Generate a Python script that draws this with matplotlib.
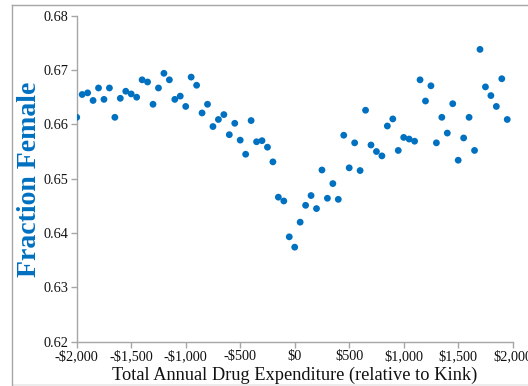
import matplotlib
matplotlib.use("Agg")
import matplotlib.pyplot as plt
from matplotlib.lines import Line2D
from matplotlib.patches import Rectangle
from matplotlib.ticker import FuncFormatter

# Bin centres of total annual drug expenditure relative to the kink ($50 bins)
expenditure = list(range(-2000, 2000, 50))

# Share of female enrollees in each bin
fraction_female = [
    0.6613, 0.6655, 0.6658, 0.6644, 0.6667, 0.6646, 0.6667, 0.6613, 0.6648, 0.6661,
    0.6656, 0.6650, 0.6682, 0.6678, 0.6637, 0.6667, 0.6694, 0.6682, 0.6646, 0.6652,
    0.6633, 0.6687, 0.6672, 0.6621, 0.6637, 0.6596, 0.6609, 0.6618, 0.6581, 0.6602,
    0.6571, 0.6545, 0.6607, 0.6568, 0.6570, 0.6558, 0.6531, 0.6466, 0.6459, 0.6393,
    0.6374, 0.6420, 0.6451, 0.6469, 0.6445, 0.6516, 0.6464, 0.6491, 0.6462, 0.6580,
    0.6520, 0.6566, 0.6515, 0.6626, 0.6562, 0.6550, 0.6542, 0.6597, 0.6610, 0.6552,
    0.6576, 0.6573, 0.6569, 0.6682, 0.6643, 0.6671, 0.6566, 0.6613, 0.6584, 0.6638,
    0.6534, 0.6575, 0.6613, 0.6552, 0.6738, 0.6669, 0.6653, 0.6633, 0.6684, 0.6609,
]

x_ticks = [-2000, -1500, -1000, -500, 0, 500, 1000, 1500, 2000]
y_ticks = [0.62, 0.63, 0.64, 0.65, 0.66, 0.67, 0.68]

plt.rcParams["font.family"] = ["Liberation Serif", "DejaVu Serif"]

blue = "#0070C0"
grey = "#a6a6a6"

fig = plt.figure(figsize=(5.28, 3.86), dpi=100)
ax = fig.add_axes([0.1453, 0.1148, 0.971 - 0.1453, 0.9593 - 0.1148])

ax.scatter(expenditure, fraction_female, s=24, color=blue, edgecolors="none", zorder=3)

ax.set_xlim(-2000, 2000)
ax.set_ylim(0.62, 0.68)
ax.set_xticks(x_ticks)
ax.set_yticks(y_ticks)


def money(v, pos):
    v = int(round(v))
    sign = "-" if v < 0 else ""
    return f"{sign}${abs(v):,}"


ax.xaxis.set_major_formatter(FuncFormatter(money))
ax.yaxis.set_major_formatter(FuncFormatter(lambda v, p: f"{v:.2f}"))

for side in ("top", "right"):
    ax.spines[side].set_visible(False)
for side in ("left", "bottom"):
    ax.spines[side].set_color(grey)
    ax.spines[side].set_linewidth(1.0)

ax.tick_params(axis="both", direction="out", length=4, width=1.0, color=grey,
               labelsize=10.3, labelcolor="#111111", pad=2)

ax.set_xlabel("Total Annual Drug Expenditure (relative to Kink)", fontsize=13.2,
              color="#111111", labelpad=2.5)
ax.set_ylabel("Fraction Female", fontsize=20, fontweight="bold", color=blue)
ax.yaxis.set_label_coords(-0.079, 0.499)

# Page frame around the chart
fig.add_artist(Line2D([12 / 528, 1.0], [1 - 5.3 / 386, 1 - 5.3 / 386],
                      transform=fig.transFigure, color=grey, linewidth=1.0))
fig.add_artist(Line2D([12 / 528, 12 / 528], [0.0, 1 - 5.3 / 386],
                      transform=fig.transFigure, color=grey, linewidth=1.0))
fig.add_artist(Rectangle((12 / 528, 0.0), 1.0, 2.5 / 386, transform=fig.transFigure,
                         facecolor="#ececec", edgecolor="none"))

fig.savefig("out.png", dpi=100)
